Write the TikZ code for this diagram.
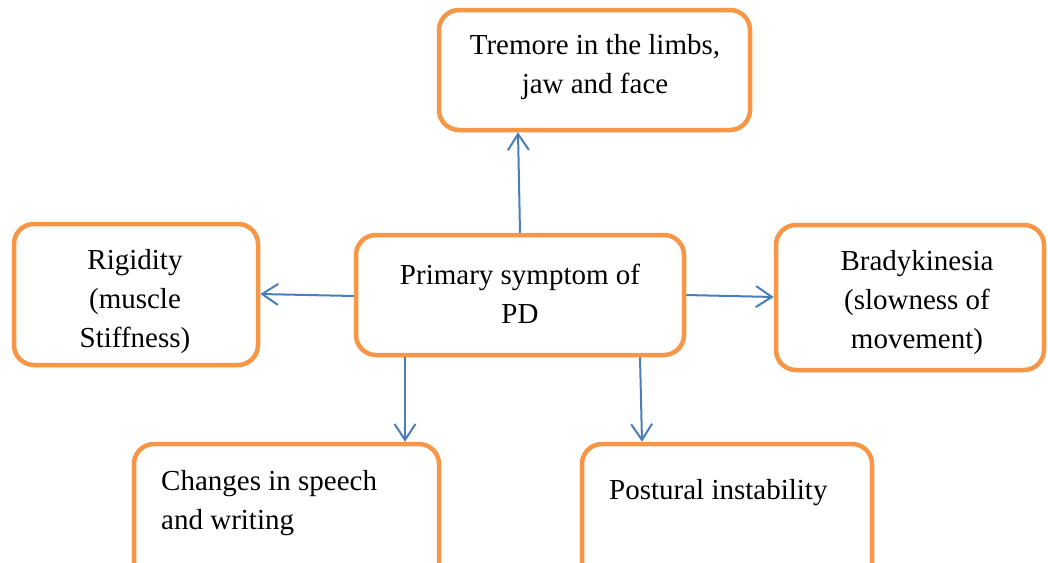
\documentclass[tikz,border=0pt]{standalone}
\usepackage{fontspec}
\setmainfont{Liberation Serif}
\usetikzlibrary{arrows.meta}
\definecolor{boxorange}{HTML}{F79646}
\definecolor{arrowblue}{HTML}{4A7EBB}
\begin{document}
\begin{tikzpicture}[x=1pt,y=-1pt,
  pbox/.style={draw=boxorange, line width=4.5pt, rounded corners=20pt, rectangle, inner sep=0pt, fill=white},
  ptext/.style={font=\fontsize{29}{39}\selectfont, inner sep=0pt, text=black},
  arr/.style={draw=arrowblue, line width=2pt, -{Straight Barb[length=16pt,width=21pt,line width=2pt]}}]
\clip (0,0) rectangle (1048,562);
% boxes
\node[pbox, minimum width=311pt, minimum height=120pt] (t) at (594.5,70) {};
\node[pbox, minimum width=328pt, minimum height=120pt] (c) at (520,295) {};
\node[pbox, minimum width=244pt, minimum height=141pt] (l) at (136,294.5) {};
\node[pbox, minimum width=268pt, minimum height=145pt] (r) at (910,297.5) {};
\node[pbox, minimum width=305pt, minimum height=156pt] (bl) at (286.5,522) {};
\node[pbox, minimum width=290pt, minimum height=156pt] (br) at (727,522) {};
% texts
\node[ptext, align=center] (tt) at (595,67) {Tremore in the limbs,\\jaw and face};
\node[ptext, align=center] (ct) at (520,294) {Primary symptom of\\PD};
\node[ptext, align=center] (lt) at (135,302) {Rigidity\\(muscle\\Stiffness)};
\node[ptext, align=center] (rt) at (917,303) {Bradykinesia\\(slowness of\\movement)};
\node[ptext, align=left, anchor=west] (blt) at (161,503) {Changes in speech\\and writing};
\node[ptext, anchor=west] (brt) at (609,493) {Postural instability};
% connector guides
\coordinate (xa) at (520,0);
\coordinate (xb) at (518,0);
\coordinate (ya) at (0,296);
\coordinate (yb) at (0,294);
\coordinate (yc) at (0,295);
\coordinate (yd) at (0,297);
\coordinate (xc) at (405,0);
\coordinate (xd) at (640,0);
\coordinate (xe) at (642,0);
% connectors
\draw[arr] (c.north -| xa) -- (t.south -| xb);
\draw[arr] (c.west |- ya) -- (l.east |- yb);
\draw[arr] (c.east |- yc) -- (r.west |- yd);
\draw[arr] (c.south -| xc) -- (bl.north -| xc);
\draw[arr] (c.south -| xd) -- (br.north -| xe);
\end{tikzpicture}
\end{document}
